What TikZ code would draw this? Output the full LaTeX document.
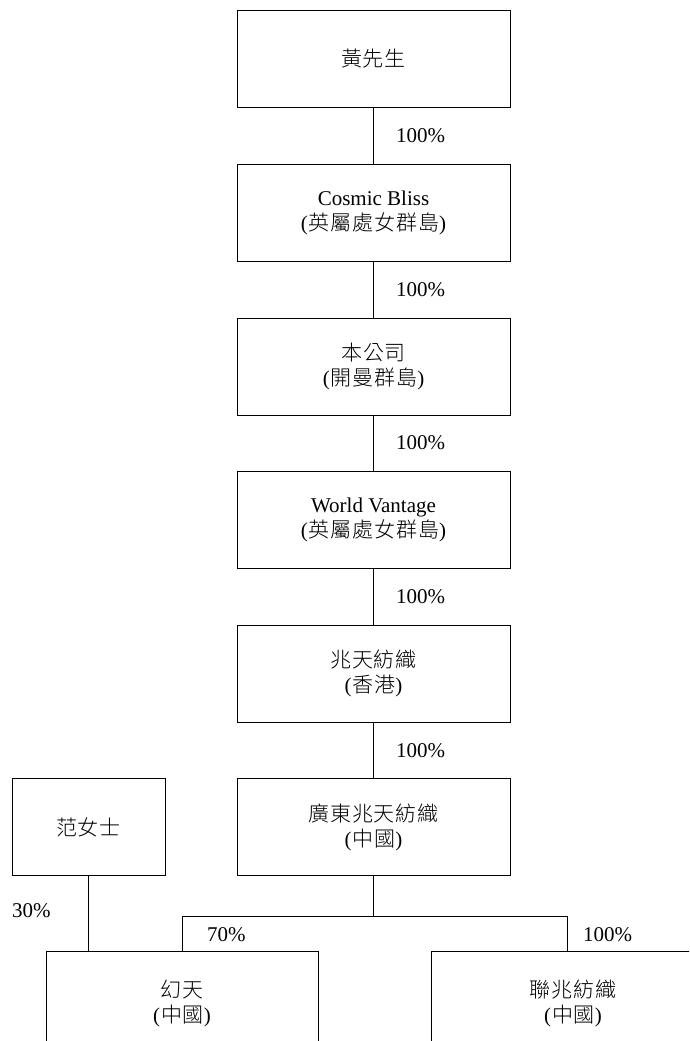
\documentclass[tikz,border=0pt]{standalone}
\usepackage{fontspec}
\setmainfont{Liberation Serif}
\newfontfamily\cjk{Noto Sans CJK TC}[UprightFont={* Light},LetterSpace=4]
\newcommand{\pk}{\kern1pt}
\usetikzlibrary{calc}
\begin{document}
\begin{tikzpicture}[x=1pt,y=-1pt,
  entity/.style={draw,line width=0.8pt,minimum width=273pt,minimum height=97pt,inner sep=0pt,align=center,font=\fontsize{21}{25}\selectfont},
  pct/.style={anchor=west,inner sep=0pt,font=\fontsize{21}{24}\selectfont},
  link/.style={line width=0.8pt}]
\useasboundingbox (0,0) rectangle (689,1041);
\clip (0,0) rectangle (689,1041);
\node[entity] (b1) at (373.5,58.5) {{\cjk 黃先生}};
\node[entity] (b2) at (373.5,212.5) {Cosmic Bliss\\(\pk{\cjk 英屬處女群島})};
\node[entity] (b3) at (373.5,366.5) {{\cjk 本公司}\\(\pk{\cjk 開曼群島})};
\node[entity] (b4) at (373.5,520) {World Vantage\\(\pk{\cjk 英屬處女群島})};
\node[entity] (b5) at (373.5,673.5) {{\cjk 兆天紡織}\\(\pk{\cjk 香港})};
\node[entity] (b6) at (373.5,827) {{\cjk 廣東兆天紡織}\\(\pk{\cjk 中國})};
\node[entity,minimum width=153pt] (fan) at (88.5,827) {{\cjk 范女士}};
\node[entity,minimum width=272pt,minimum height=105pt] (huan) at (182,1003.5) {{\cjk 幻天}\\(\pk{\cjk 中國})};
\node[entity,minimum width=284pt,minimum height=105pt] (lian) at (573,1003.5) {{\cjk 聯兆紡織}\\(\pk{\cjk 中國})};
\draw[link] (b1.south) -- (b2.north);
\draw[link] (b2.south) -- (b3.north);
\draw[link] (b3.south) -- (b4.north);
\draw[link] (b4.south) -- (b5.north);
\draw[link] (b5.south) -- (b6.north);
\node[pct] (p1) at (396,136) {100\%};
\node[pct] (p2) at (396,289.5) {100\%};
\node[pct] (p3) at (396,443) {100\%};
\node[pct] (p4) at (396,597) {100\%};
\node[pct] (p5) at (396,750.5) {100\%};
\coordinate (bus) at (373.5,916);
\coordinate (lt) at (567,951);
\draw[link] (b6.south) -- (bus);
\draw[link] (huan.north) |- (bus) -| (lt);
\draw[link] (fan.south) -- (fan.south |- huan.north);
\node[pct] (p30) at (12,911) {30\%};
\node[pct] (p70) at (207,935) {70\%};
\node[pct] (p100) at (583,935) {100\%};
\end{tikzpicture}
\end{document}
